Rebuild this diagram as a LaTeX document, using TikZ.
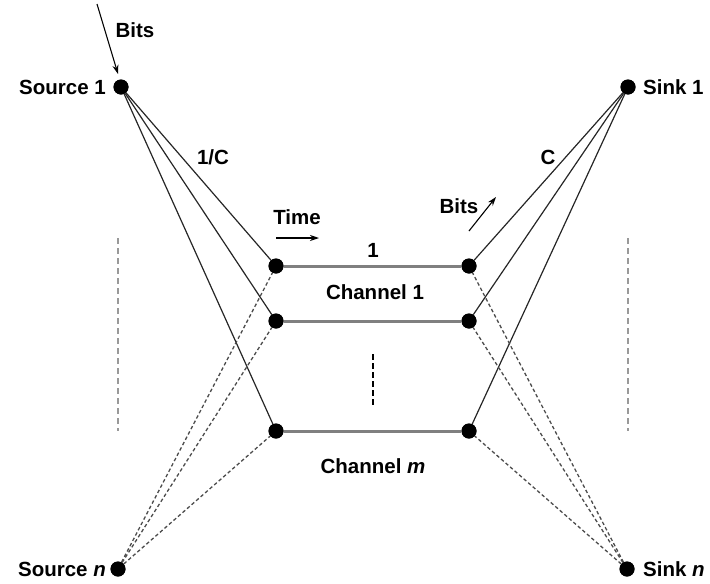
\documentclass[tikz,border=0pt]{standalone}
\usepackage{fontspec}
\setmainfont{Liberation Sans}
\usetikzlibrary{arrows.meta}
\begin{document}
\begin{tikzpicture}[x=1pt,y=-1pt,
  dot/.style={circle,fill=black,inner sep=0pt,minimum size=15pt},
  lbl/.style={font=\fontsize{20.5}{24}\selectfont\bfseries,inner sep=1pt},
  link/.style={line width=1.2pt,black!85},
  dlink/.style={line width=1.3pt,black!70,dash pattern=on 3.5pt off 2.5pt},
  chan/.style={line width=3pt,black!50},
  guide/.style={line width=1.4pt,black!40,dash pattern=on 6pt off 4pt},
  flow/.style={line width=1.1pt,-{Stealth[length=9pt,width=6pt]}}]
\useasboundingbox (0,0) rectangle (710,584);

% end points
\node[dot] (s1) at (121,87) {};
\node[dot] (sn) at (118,569) {};
\node[dot] (t1) at (628,87) {};
\node[dot] (tn) at (627,569) {};

% channel ends
\node[dot] (a1) at (276,266) {};
\node[dot] (a2) at (276,321) {};
\node[dot] (a3) at (276,431) {};
\node[dot] (b1) at (469,266) {};
\node[dot] (b2) at (469,321) {};
\node[dot] (b3) at (469,431) {};

% channels
\draw[chan] (a1) -- (b1);
\draw[chan] (a2) -- (b2);
\draw[chan] (a3) -- (b3);

% solid fans
\foreach \c in {a1,a2,a3} \draw[link] (s1) -- (\c);
\foreach \c in {b1,b2,b3} \draw[link] (t1) -- (\c);
% dashed fans
\foreach \c in {a1,a2,a3} \draw[dlink] (sn) -- (\c);
\foreach \c in {b1,b2,b3} \draw[dlink] (tn) -- (\c);

% redraw dots on top
\foreach \c in {s1,sn,t1,tn,a1,a2,a3,b1,b2,b3} \fill (\c) circle (7.5pt);

% ellipsis guides
\coordinate (gl1) at (118,238); \coordinate (gl2) at (118,431);
\coordinate (gr1) at (628,238); \coordinate (gr2) at (628,431);
\coordinate (gc1) at (373,354); \coordinate (gc2) at (373,405);
\draw[guide] (gl1) -- (gl2);
\draw[guide] (gr1) -- (gr2);
\draw[line width=1.4pt,dash pattern=on 6pt off 3pt] (gc1) -- (gc2);

% labels
\node[lbl,anchor=east] at (107,87) {Source 1};
\node[lbl,anchor=east] at (107,569) {Source \textit{n}};
\node[lbl,anchor=west] at (642,87) {Sink 1};
\node[lbl,anchor=west] at (642,569) {Sink \textit{n}};
\node[lbl] at (213,157) {1/C};
\node[lbl] at (548,157) {C};
\node[lbl] at (373,250) {1};
\node[lbl] at (375,292) {Channel 1};
\node[lbl] at (373,466) {Channel \textit{m}};
\node[lbl] at (297,217) (time) {Time};
\node[lbl] at (135,30) (bits1) {Bits};
\node[lbl] at (459,206) (bits2) {Bits};

% flow arrows
\coordinate (f1) at (97,4); \coordinate (f2) at (118,74);
\coordinate (f3) at (276,238); \coordinate (f4) at (319,238);
\coordinate (f5) at (469,231); \coordinate (f6) at (496,197);
\draw[flow] (f1) -- (f2);
\draw[flow] (f3) -- (f4);
\draw[flow] (f5) -- (f6);
\end{tikzpicture}
\end{document}
